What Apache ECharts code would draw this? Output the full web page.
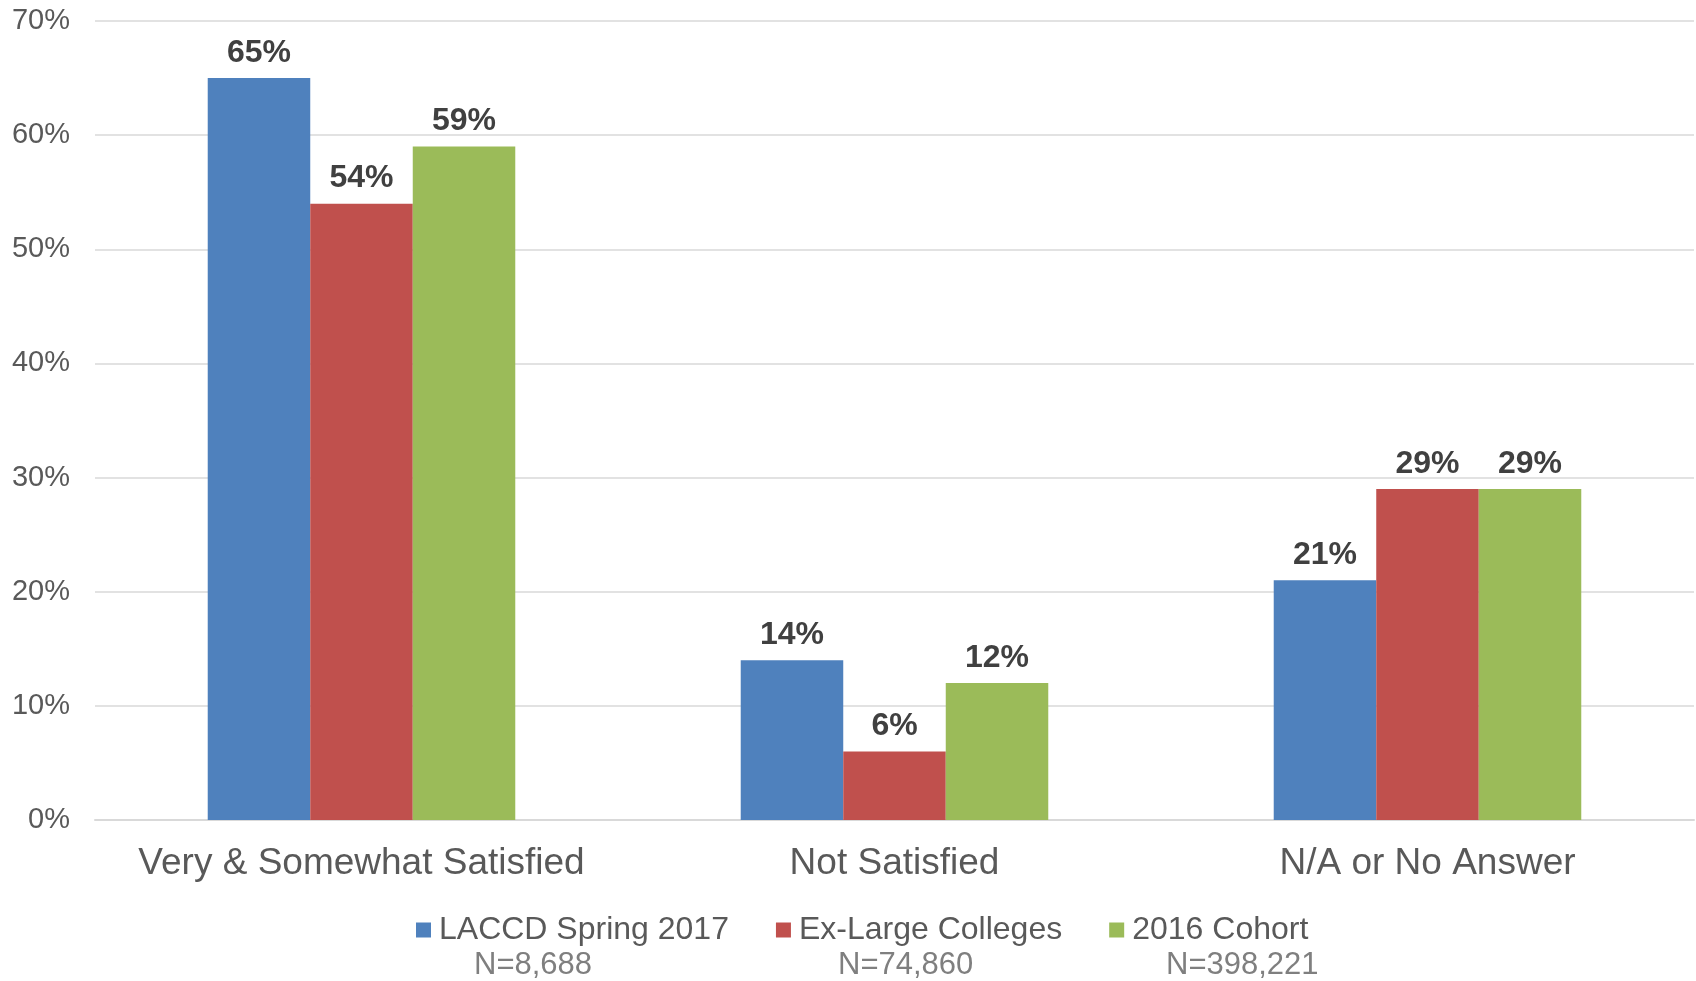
<!DOCTYPE html>
<html>
<head>
<meta charset="utf-8">
<script src="https://cdn.jsdelivr.net/npm/echarts@6/dist/echarts.min.js"></script>
<style>
html,body{margin:0;padding:0;background:#fff;}
#c{width:1696px;height:981px;}
</style>
</head>
<body>
<div id="c"></div>
<script>
var categories = ['Very & Somewhat Satisfied', 'Not Satisfied', 'N/A or No Answer'];
var seriesNames = ['LACCD Spring 2017', 'Ex-Large Colleges', '2016 Cohort'];
var sampleSizes = ['N=8,688', 'N=74,860', 'N=398,221'];
var laccd = [65, 14, 21];
var exLarge = [54, 6, 29];
var cohort = [59, 12, 29];
var colors = ['#4F81BD', '#C0504D', '#9BBB59'];
var yTicks = [0, 10, 20, 30, 40, 50, 60, 70];

var font = '"Liberation Sans", Arial, sans-serif';
var chart = echarts.init(document.getElementById('c'));

function mkSeries(name, data, color) {
  return {
    name: name,
    type: 'bar',
    data: data,
    barGap: '0%',
    barCategoryGap: '42.3%',
    itemStyle: { color: color },
    label: {
      show: true,
      position: 'top',
      distance: 9,
      formatter: '{c}%',
      fontFamily: font,
      fontSize: 32,
      fontWeight: 'bold',
      color: '#404040'
    }
  };
}

var nLefts = [474, 838, 1166];

chart.setOption({
  animation: false,
  backgroundColor: '#fff',
  grid: { left: 95, right: 2, top: 21, bottom: 161 },
  xAxis: {
    type: 'category',
    data: categories,
    axisLine: { show: true, lineStyle: { color: '#d9d9d9', width: 2 } },
    axisTick: { show: false },
    axisLabel: { interval: 0, fontFamily: font, fontSize: 37, color: '#595959', margin: 25 }
  },
  yAxis: {
    type: 'value',
    min: yTicks[0],
    max: yTicks[yTicks.length - 1],
    interval: 10,
    axisLine: { show: false },
    axisTick: { show: false },
    splitLine: { lineStyle: { color: '#d9d9d9', width: 1.5 } },
    axisLabel: { fontFamily: font, fontSize: 29, color: '#595959', margin: 25, formatter: '{value}%' }
  },
  legend: {
    left: 411,
    top: 909,
    itemWidth: 15,
    itemHeight: 15,
    itemGap: 47,
    icon: 'rect',
    data: seriesNames,
    textStyle: { fontFamily: font, fontSize: 32, color: '#595959', padding: [0, 0, 0, 3] }
  },
  graphic: sampleSizes.map(function (s, i) {
    return {
      type: 'text',
      left: nLefts[i],
      top: 950,
      style: { text: s, font: '31px ' + font, fill: '#7f7f7f' }
    };
  }),
  series: [
    mkSeries(seriesNames[0], laccd, colors[0]),
    mkSeries(seriesNames[1], exLarge, colors[1]),
    mkSeries(seriesNames[2], cohort, colors[2])
  ]
});
</script>
</body>
</html>
